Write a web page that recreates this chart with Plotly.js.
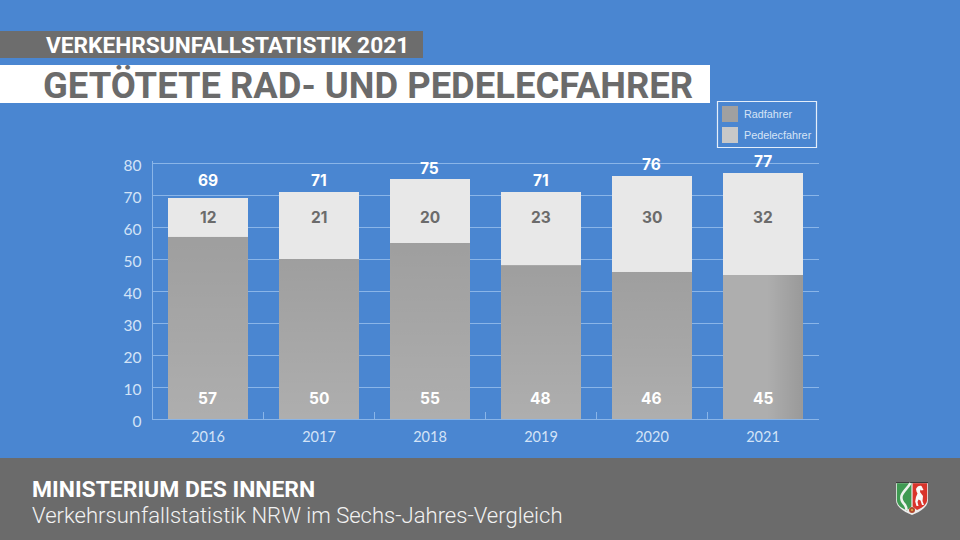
<!DOCTYPE html>
<html><head><meta charset="utf-8">
<script src="https://cdn.plot.ly/plotly-3.0.1.min.js"></script>
<style>html,body{margin:0;padding:0;background:#4a86d1}</style></head>
<body><div id="chart" style="width:960px;height:540px"></div>
<script>
const years = ['2016','2017','2018','2019','2020','2021'];
const radfahrer = [57,50,55,48,46,45];
const pedelec = [12,21,20,23,30,32];
const totals = [69,71,75,71,76,77];
const yTicks = [0,10,20,30,40,50,60,70,80];

const W=960,H=540;
const px=x=>x/W, py=y=>1-y/H;
const BLUE='#4a86d1', GREY='#6b6b6b', LINE='#8ab5e8', TICK='#d3e3f7';
const rect=(x0,y0,x1,y1,fill,line)=>({type:'rect',xref:'paper',yref:'paper',layer:'below',
  x0:px(x0),x1:px(x1),y0:py(y0),y1:py(y1),fillcolor:fill,line:line||{width:0}});
const note=(text,x,y,size,color,family,opts)=>Object.assign({xref:'paper',yref:'paper',x:px(x),y:py(y),
  text,showarrow:false,xanchor:'left',yanchor:'middle',font:{size,color,family}},opts||{});
const val=(text,i,v,size,color,extra)=>Object.assign({xref:'x',yref:'y',x:i,y:v,text:'<b>'+text+'</b>',xshift:-0.5,
  showarrow:false,xanchor:'center',yanchor:'middle',font:{size,color,family:'Inter, Lato, sans-serif'}},extra||{});

const shade=(horizontal)=>'data:image/svg+xml;utf8,'+encodeURIComponent(
 `<svg xmlns="http://www.w3.org/2000/svg" width="80" height="200" preserveAspectRatio="none"><defs><linearGradient id="g" x1="0" y1="0" x2="${horizontal?1:0}" y2="${horizontal?0:1}">`+
 (horizontal?'<stop offset="0.55" stop-color="#000" stop-opacity="0"/><stop offset="1" stop-color="#000" stop-opacity="0.12"/>'
            :'<stop offset="0" stop-color="#000" stop-opacity="0.09"/><stop offset="1" stop-color="#000" stop-opacity="0"/>')+
 `</linearGradient></defs><rect width="80" height="200" fill="url(#g)"/></svg>`);

const crest='data:image/svg+xml;utf8,'+encodeURIComponent(
 `<svg xmlns="http://www.w3.org/2000/svg" width="96" height="99" viewBox="0 0 32 33">
 <path d="M0 0H32V18C32 25 24 30 16 33C8 30 0 25 0 18Z" fill="#ececec"/>
 <path d="M0 0H32V1.2H0Z" fill="#3c3c3c"/>
 <path d="M0.8 1.2H15.4V24.5L11 28.5C5 26 0.8 23 0.8 17Z" fill="#3f9a52"/>
 <path d="M14.5 1C12 6 7 9 5.5 14C4.5 18 7 21 9 23C10 24.5 10.5 26 10.5 28" fill="none" stroke="#eef3ee" stroke-width="2.6"/>
 <path d="M16.6 1.2H31.2V17C31.2 22 27 25.5 21 28L16.6 24.5Z" fill="#d9342b"/>
 <path d="M20 7C21 4 24 3 25.5 4L27.5 8L25.5 8.5L24.5 7.5L24 10L27 14L26.5 19L28 23L26 23L24.5 18.5L22.5 17.5L21.5 20L22.5 24L20.5 24L19.2 19.5L20 15L21.5 11.5L20.5 9.5Z" fill="#fafafa"/>
 <circle cx="16" cy="28" r="3" fill="#b24a2e"/>
 <circle cx="16" cy="28" r="1.1" fill="#e0b040"/>
 </svg>`);

const images=[];
years.forEach((y,i)=>{
  images.push({source:shade(i===5),xref:'x',yref:'y',x:i-0.36,y:radfahrer[i],sizex:0.72,sizey:radfahrer[i],
    xanchor:'left',yanchor:'top',sizing:'stretch',layer:'above'});
});
images.push({source:crest,xref:'paper',yref:'paper',x:px(896),y:py(482),sizex:32/W,sizey:33/H,
  xanchor:'left',yanchor:'top',sizing:'stretch',layer:'above'});

const annotations=[
  note('<b>VERKEHRSUNFALLSTATISTIK 2021</b>',44,45,22.7,'#ffffff','Roboto, sans-serif'),
  note('<b>GETÖTETE RAD- UND PEDELECFAHRER</b>',41,85,36.4,GREY,'Roboto, sans-serif'),
  note('<b>MINISTERIUM DES INNERN</b>',30,489,22.9,'#ffffff','Roboto, sans-serif'),
  note('Verkehrsunfallstatistik NRW im Sechs-Jahres-Vergleich',30,515,22.05,'#f2f2f2','Roboto Light, Roboto, sans-serif'),
  note('Radfahrer',742,114,10.8,'#d6e4f6','Liberation Sans, sans-serif'),
  note('Pedelecfahrer',742,135,10.8,'#d6e4f6','Liberation Sans, sans-serif')
];
years.forEach((y,i)=>{
  annotations.push(val(radfahrer[i],i,6.5,15.5,'#ffffff'));
  annotations.push(val(pedelec[i],i,63.1,15.5,GREY));
  annotations.push(val(totals[i],i,Math.max(totals[i],71),15.5,'#ffffff',{yshift:11}));
});

const data=[
 {type:'bar',name:'Radfahrer',x:years,y:radfahrer,marker:{color:'#aeaeae',line:{width:0}}},
 {type:'bar',name:'Pedelecfahrer',x:years,y:pedelec,marker:{color:'#e8e8e8',line:{width:0}}}
];
const layout={
 width:W,height:540,margin:{l:0,r:0,t:0,b:0},paper_bgcolor:BLUE,plot_bgcolor:BLUE,
 barmode:'stack',bargap:0.28,showlegend:false,
 xaxis:{type:'category',categoryorder:'array',categoryarray:years,domain:[px(152.5),px(818.5)],anchor:'y',
   showline:true,linecolor:LINE,linewidth:1,showgrid:false,ticks:'inside',tickson:'boundaries',ticklen:7,tickcolor:LINE,tickwidth:1,
   tickfont:{family:'Lato, sans-serif',size:14.5,color:TICK},ticklabelstandoff:5},
 yaxis:{range:[0,80.5],domain:[py(419),py(161.4)],anchor:'x',tickvals:yTicks,ticktext:yTicks.map(String),
   showline:true,linecolor:LINE,linewidth:1,showgrid:true,gridcolor:LINE,gridwidth:1,zeroline:false,ticks:'',
   tickfont:{family:'Lato, sans-serif',size:15.5,color:TICK},ticklabelstandoff:7,ticklabelshift:3},
 shapes:[
   rect(0,31,423,58,'#6d6d6d'),
   rect(0,65,710,103,'#ffffff'),
   rect(0,458,960,540,GREY),
   rect(717.5,101.5,816.5,147.5,'rgba(0,0,0,0)',{color:'#e4eefa',width:1.2}),
   rect(722,106,738,122,'#a0a0a0'),
   rect(722,127,738,143,'#c8c8c8')
 ],
 annotations,images
};
Plotly.newPlot('chart',data,layout,{displayModeBar:false,staticPlot:true});
</script></body></html>
